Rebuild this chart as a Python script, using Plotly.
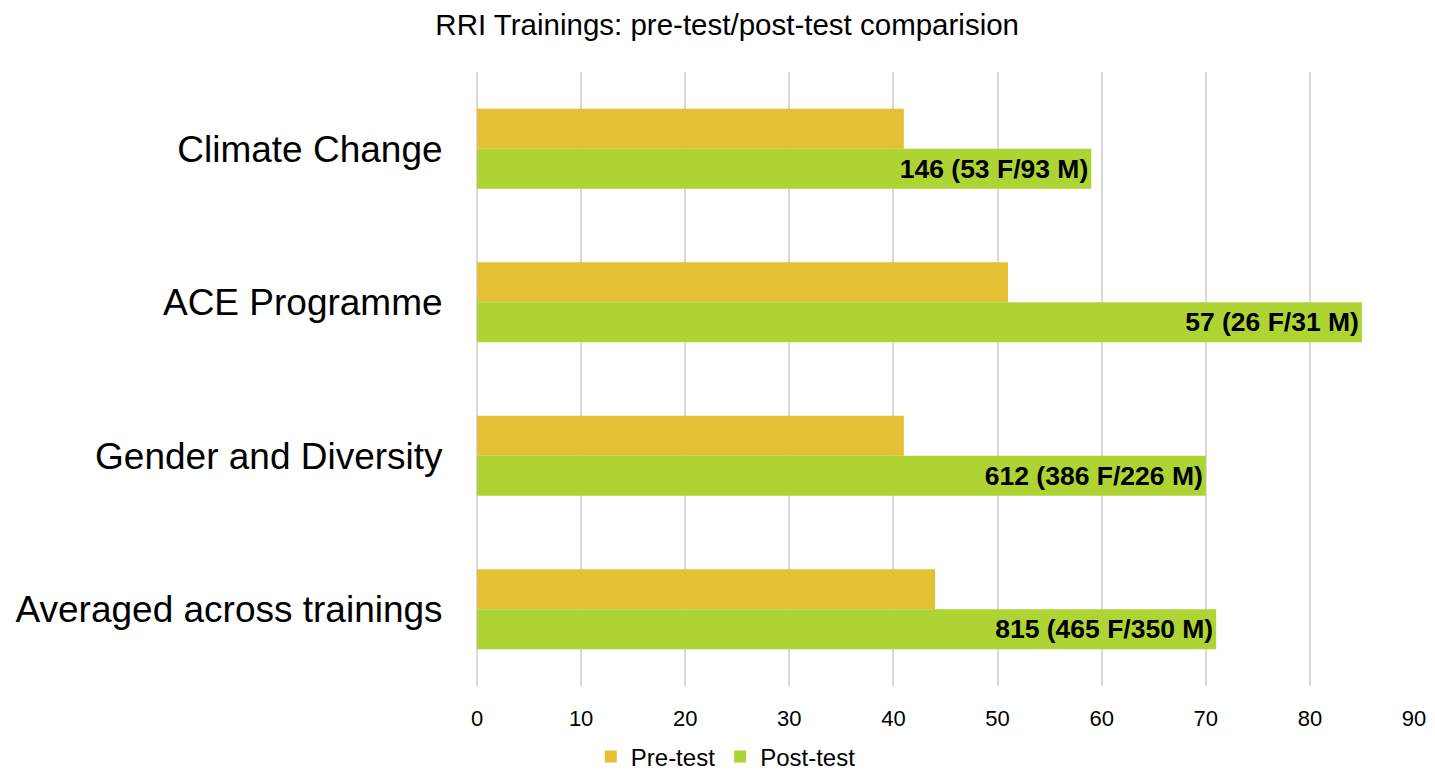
import plotly.graph_objects as go

categories = ["Climate Change", "ACE Programme", "Gender and Diversity", "Averaged across trainings"]
pre_test = [41, 51, 41, 44]
post_test = [59, 85, 70, 71]
post_labels = ["146 (53 F/93 M)", "57 (26 F/31 M)", "612 (386 F/226 M)", "815 (465 F/350 M)"]
x_ticks = [0, 10, 20, 30, 40, 50, 60, 70, 80, 90]

FONT = "Liberation Sans, Arial, sans-serif"

fig = go.Figure()
fig.add_trace(go.Bar(
    y=categories, x=pre_test, name="Pre-test", orientation="h",
    marker=dict(color="#E4C034", line=dict(width=0)),
))
fig.add_trace(go.Bar(
    y=categories, x=post_test, name="Post-test", orientation="h",
    marker=dict(color="#ADD433", line=dict(width=0)),
    text=post_labels, textposition="inside", insidetextanchor="end",
    textfont=dict(family=FONT, size=26.5, color="black", weight="bold"),
    textangle=0,
))

fig.update_layout(
    width=1427, height=769,
    paper_bgcolor="white", plot_bgcolor="white",
    margin=dict(l=469, r=21, t=64, b=91),
    barmode="group", bargap=0.48, bargroupgap=0,
    title=dict(text="RRI Trainings: pre-test/post-test comparision",
               font=dict(family=FONT, size=29.5, color="black"),
               x=0.504, xanchor="center", y=0.978, yanchor="middle", xref="container", yref="container"),
    font=dict(family=FONT, color="black"),
    legend=dict(orientation="h", xref="container", x=0.503, xanchor="center",
                yref="container", y=0.026, yanchor="middle",
                bgcolor="rgba(0,0,0,0)",
                font=dict(family=FONT, size=24, color="black"),
                itemwidth=30, traceorder="normal"),
    xaxis=dict(range=[0, 90], tickvals=x_ticks, showgrid=True, automargin=False,
               gridcolor="#D9D9D9", gridwidth=2, zeroline=True,
               zerolinecolor="#D9D9D9", zerolinewidth=2,
               tickfont=dict(family=FONT, size=22, color="black"),
               ticks="outside", ticklen=13, tickcolor="rgba(0,0,0,0)",
               showline=False, fixedrange=True),
    yaxis=dict(categoryorder="array", categoryarray=categories, autorange="reversed",
               automargin=False,
               tickfont=dict(family=FONT, size=37, color="black"),
               ticks="outside", ticklen=26, tickcolor="rgba(0,0,0,0)",
               showgrid=False, showline=False, fixedrange=True),
)

fig.write_html("out.html")
